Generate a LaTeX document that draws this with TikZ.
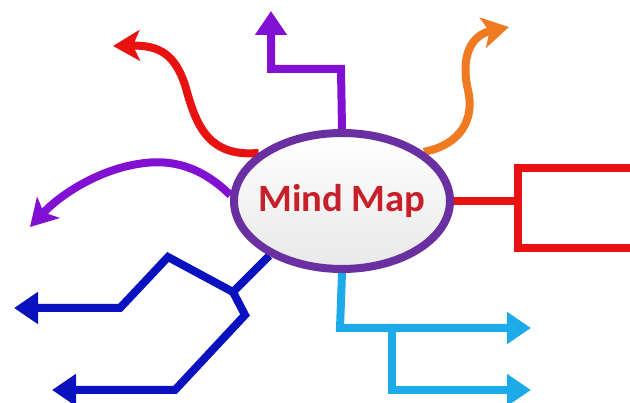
\documentclass[tikz,border=0pt]{standalone}
\usepackage{fontspec}
\setmainfont{Carlito}
\usetikzlibrary{arrows.meta,shapes.geometric,backgrounds}
\definecolor{cred}{HTML}{E81212}
\definecolor{cpurple}{HTML}{8210D2}
\definecolor{corange}{HTML}{F07A22}
\definecolor{cblue}{HTML}{0A12C0}
\definecolor{ccyan}{HTML}{1CAAE8}
\definecolor{cring}{HTML}{6A2FA0}
\definecolor{ctext}{HTML}{C8202A}
\tikzset{
  branch/.style={line width=0.24cm, line join=miter},
  tip/.style={-{Triangle[length=0.72cm,width=0.92cm]}},
  ctip/.style={-{Stealth[length=0.8cm,width=0.92cm,inset=0.2cm]}},
  centre/.style={ellipse, draw=cring, line width=0.24cm, minimum width=6.48cm, minimum height=4.08cm,
    top color=white, bottom color=black!9, font=\bfseries\fontsize{33}{38}\selectfont, text=ctext, inner sep=0pt}
}
\begin{document}
\begin{tikzpicture}[x=0.03cm,y=-0.03cm]
\useasboundingbox (0,0) rectangle (630,403);
\node[centre] (mm) at (342,201) {\makebox[0pt]{Mind Map}};
% coordinates
\coordinate (t1) at (341,69);
\coordinate (t2) at (271,69);
\coordinate (t3) at (271,11);
\coordinate (rt) at (113,46);
\coordinate (ot) at (509,27);
\coordinate (pl) at (30,227);
\coordinate (r2) at (518,168);
\coordinate (r3) at (518,248);
\coordinate (r4) at (640,168);
\coordinate (r5) at (640,248);
\coordinate (b0) at (233,292);
\coordinate (b1) at (168,257);
\coordinate (b2) at (120,308);
\coordinate (b3) at (14,308);
\coordinate (b4) at (245,315);
\coordinate (b5) at (175,390);
\coordinate (b6) at (52,390);
\coordinate (c1) at (340,328);
\coordinate (c2) at (531,328);
\coordinate (c3) at (392,328);
\coordinate (c4) at (392,390);
\coordinate (c5) at (531,390);
% branches
\begin{scope}[on background layer]
\draw[branch,cpurple,tip] (mm.north) -- (t1) -- (t2) -- (t3);
\draw[branch,cred,ctip] (mm.150) .. controls (205,158) and (195,120) .. (185,85)
   .. controls (175,55) and (160,45) .. (rt);
\draw[branch,corange,ctip] (mm.31) .. controls (460,145) and (475,120) .. (468,90)
   .. controls (460,55) and (472,35) .. (ot);
\draw[branch,cpurple,ctip] (mm.177) .. controls (200,165) and (170,160) .. (145,163)
   .. controls (100,168) and (60,195) .. (pl);
\draw[branch,cred] (mm.east) -- (mm.east -| r2);
\draw[branch,cred] (r4) -- (r2) -- (r3) -- (r5);
\draw[branch,cblue] (mm.217) -- (b0);
\draw[branch,cblue,tip] (b0) -- (b1) -- (b2) -- (b3);
\draw[branch,cblue,tip] (b0) -- (b4) -- (b5) -- (b6);
\draw[branch,ccyan,tip] (mm.south) -- (c1) -- (c2);
\draw[branch,ccyan,tip] (c3) -- (c4) -- (c5);
\end{scope}
\end{tikzpicture}
\end{document}
